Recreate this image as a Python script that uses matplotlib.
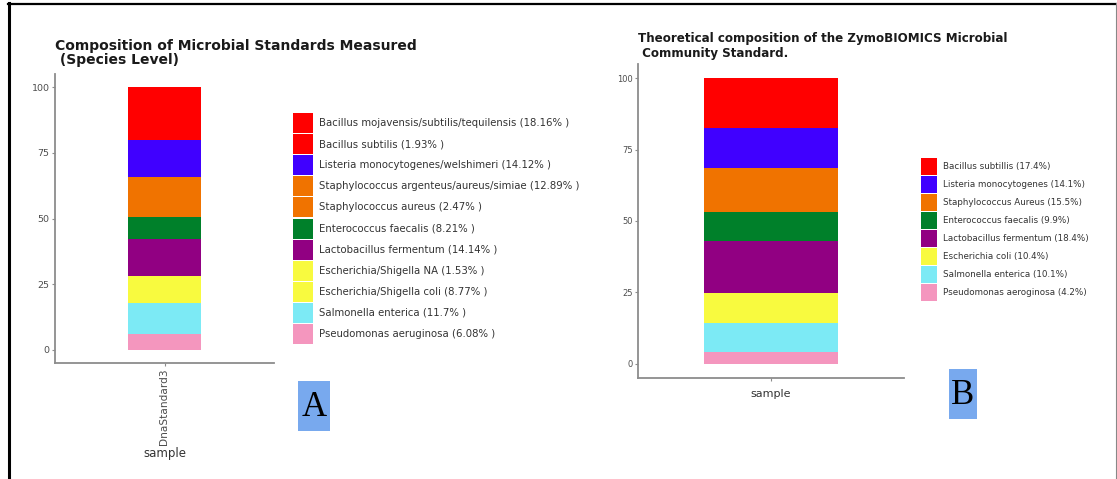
import matplotlib
matplotlib.use("Agg")
import matplotlib.pyplot as plt
from matplotlib.patches import Rectangle
from matplotlib.lines import Line2D

# Panel A: measured composition (species level), bottom-to-top stacking order
measured_sample = "DnaStandard3"
measured_labels = [
    "Bacillus mojavensis/subtilis/tequilensis",
    "Bacillus subtilis",
    "Listeria monocytogenes/welshimeri",
    "Staphylococcus argenteus/aureus/simiae",
    "Staphylococcus aureus",
    "Enterococcus faecalis",
    "Lactobacillus fermentum",
    "Escherichia/Shigella NA",
    "Escherichia/Shigella coli",
    "Salmonella enterica",
    "Pseudomonas aeruginosa",
]
measured_values = [18.16, 1.93, 14.12, 12.89, 2.47, 8.21, 14.14, 1.53, 8.77, 11.7, 6.08]
measured_value_text = ["18.16", "1.93", "14.12", "12.89", "2.47", "8.21", "14.14",
                       "1.53", "8.77", "11.7", "6.08"]
measured_colors = ["#FF0000", "#FF0000", "#4000FF", "#F07300", "#F07300", "#00802A",
                   "#910082", "#F8FA3F", "#F8FA3F", "#7CEAF5", "#F496BE"]

# Panel B: theoretical composition of the ZymoBIOMICS standard
theory_labels = [
    "Bacillus subtillis",
    "Listeria monocytogenes",
    "Staphylococcus Aureus",
    "Enterococcus faecalis",
    "Lactobacillus fermentum",
    "Escherichia coli",
    "Salmonella enterica",
    "Pseudomonas aeroginosa",
]
theory_values = [17.4, 14.1, 15.5, 9.9, 18.4, 10.4, 10.1, 4.2]
theory_colors = ["#FF0000", "#4000FF", "#F07300", "#00802A", "#910082", "#F8FA3F",
                 "#7CEAF5", "#F496BE"]

y_ticks = [0, 25, 50, 75, 100]

W, H = 1117, 479
fig = plt.figure(figsize=(W / 100, H / 100), dpi=100)
fig.patch.set_facecolor("white")


def fx(x):
    return x / W


def fy(y):
    return 1 - y / H


def panel(x0, x1, y0, y1):
    return fig.add_axes([fx(x0), fy(y1), fx(x1) - fx(x0), fy(y0) - fy(y1)])


AXIS_GREY = "#8C8C8C"
TEXT_GREY = "#4D4D4D"


def stacked_bar(ax, values, colors, width, tick_size):
    # stack from the last entry (bottom) to the first (top)
    bottom = 0.0
    for v, c in zip(values[::-1], colors[::-1]):
        ax.bar(0, v, width=width, bottom=bottom, color=c, linewidth=0)
        bottom += v
    ax.set_xlim(-0.5, 0.5)
    ax.set_ylim(-5, 105)
    ax.set_yticks(y_ticks)
    for s in ("top", "right"):
        ax.spines[s].set_visible(False)
    for s in ("left", "bottom"):
        ax.spines[s].set_color(AXIS_GREY)
        ax.spines[s].set_linewidth(1.3)
    ax.tick_params(colors=AXIS_GREY, labelcolor=TEXT_GREY, labelsize=tick_size,
                   length=2.5, width=0.8, pad=1.5)
    ax.set_facecolor("white")


# ---- Panel A ----
axA = panel(55, 274, 74, 363)
stacked_bar(axA, measured_values, measured_colors, 0.33, 6.8)
axA.set_xticks([0])
axA.set_xticklabels([measured_sample], rotation=90, fontsize=7.6, color=TEXT_GREY)
axA.set_xlabel("sample", fontsize=8.5, color="#333333", labelpad=1)

fig.text(fx(55), fy(53), "Composition of Microbial Standards Measured\n (Species Level)",
         fontsize=10.0, fontweight="bold", color="#1A1A1A", ha="left", va="center",
         linespacing=1.05)

for i, (lab, vt, c) in enumerate(zip(measured_labels, measured_value_text, measured_colors)):
    top = 113 + 21.1 * i
    fig.add_artist(Rectangle((fx(293), fy(top + 20)), fx(20), 20 / H,
                             transform=fig.transFigure, facecolor=c, edgecolor="none"))
    fig.text(fx(319), fy(top + 10), f"{lab} ({vt}% )", fontsize=7.3,
             color="#333333", ha="left", va="center")

# ---- Panel B ----
axB = panel(638, 904, 64, 378)
stacked_bar(axB, theory_values, theory_colors, 0.504, 6.0)
axB.set_xticks([0])
axB.set_xticklabels([""])
axB.set_xlabel("sample", fontsize=8, color="#333333", labelpad=4)

fig.text(fx(638), fy(46), "Theoretical composition of the ZymoBIOMICS Microbial\n Community Standard.",
         fontsize=8.6, fontweight="bold", color="#1A1A1A", ha="left", va="center",
         linespacing=1.15)

for i, (lab, v, c) in enumerate(zip(theory_labels, theory_values, theory_colors)):
    top = 158 + 18.0 * i
    fig.add_artist(Rectangle((fx(921), fy(top + 17)), fx(16), 17 / H,
                             transform=fig.transFigure, facecolor=c, edgecolor="none"))
    fig.text(fx(943), fy(top + 8.5), f"{lab} ({v}%)", fontsize=6.3,
             color="#333333", ha="left", va="center")

# ---- panel letters ----
for letter, (x0, x1, y0, y1) in (("A", (298, 330, 381, 431)), ("B", (949, 977, 369, 419))):
    fig.add_artist(Rectangle((fx(x0), fy(y1)), fx(x1 - x0), (y1 - y0) / H,
                             transform=fig.transFigure, facecolor="#78A9EE", edgecolor="none"))
    fig.text(fx((x0 + x1) / 2), fy((y0 + y1) / 2 + 1), letter, fontsize=25,
             family="Liberation Serif", color="black", ha="center", va="center")

# ---- outer frame ----
fig.add_artist(Line2D([fx(8), fx(1116)], [fy(3.5), fy(3.5)], transform=fig.transFigure,
                      color="black", linewidth=1.6))
fig.add_artist(Line2D([fx(8.5), fx(8.5)], [fy(3), fy(479)], transform=fig.transFigure,
                      color="black", linewidth=2.2))
fig.add_artist(Line2D([fx(1116), fx(1116)], [fy(3), fy(479)], transform=fig.transFigure,
                      color="#888888", linewidth=0.8))

fig.savefig("out.png", dpi=100, facecolor="white")
